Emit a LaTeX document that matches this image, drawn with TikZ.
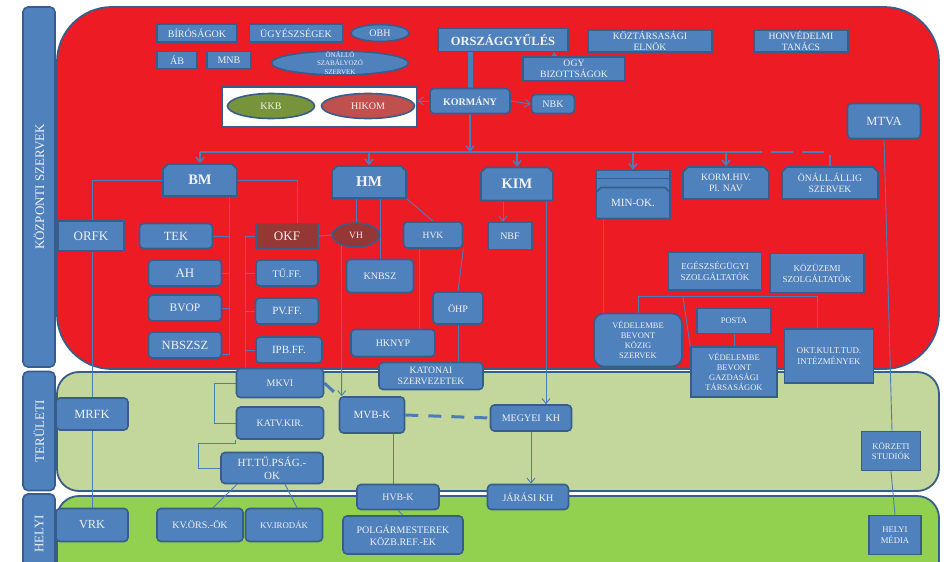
\documentclass[tikz,border=0pt]{standalone}
\usepackage{fontspec}
\setmainfont{Liberation Serif}
\usetikzlibrary{shapes.geometric,shapes.misc,arrows.meta}
\definecolor{kred}{HTML}{ED1C24}
\definecolor{lgreen}{HTML}{C3D69B}
\definecolor{dgreen}{HTML}{92D050}
\definecolor{nblue}{HTML}{4F81BD}
\definecolor{eblue}{HTML}{385D8A}
\definecolor{lblue}{HTML}{4A7EBB}
\definecolor{dred}{HTML}{953735}
\definecolor{olive}{HTML}{77933C}
\definecolor{rose}{HTML}{C0504D}
\definecolor{tw}{HTML}{F2F2F2}
\pgfdeclarelayer{regions}
\pgfdeclarelayer{lines}
\pgfsetlayers{regions,lines,main}
\tikzset{
  fs/.style={font={\fontsize{#1}{#1}\selectfont\baselineskip 1.2\baselineskip}},
  fsb/.style={font={\fontsize{#1}{#1}\selectfont\bfseries}},
  sz/.style 2 args={minimum width=#1pt,minimum height=#2pt},
  box/.style={rectangle,draw=eblue,fill=nblue,line width=1.6pt,text=tw,align=center,inner sep=0pt},
  rbox/.style={box,rounded corners=4pt},
  cbox/.style={box,chamfered rectangle,chamfered rectangle corners={north west,north east},chamfered rectangle sep=2.5pt},
  oval/.style={box,ellipse},
  wbox/.style={rectangle,draw=eblue,fill=white,line width=1.6pt},
  band/.style={draw=eblue,fill=nblue,line width=1.6pt,rounded corners=5pt,text=tw,fs=13,rotate=90,inner sep=0pt},
  area/.style={draw=eblue,line width=1.8pt},
  ln/.style={draw=lblue,line width=0.9pt},
  bus/.style={draw=lblue,line width=2.4pt},
  dline/.style={draw=lblue,line width=3pt,dash pattern=on 13pt off 10pt}
}
\begin{document}
\begin{tikzpicture}[x=1pt,y=-1pt,>={Straight Barb[length=5pt,width=8pt]}]
\useasboundingbox (0,0) rectangle (946,562);
\begin{pgfonlayer}{regions}
\draw[area,fill=kred,rounded corners=55pt] (57,7) rectangle (939,369);
\draw[area,fill=lgreen,rounded corners=22pt] (57,372) rectangle (939,491);
\draw[area,fill=dgreen,rounded corners=22pt] (57,496) rectangle (939,600);
\node[band,sz={360}{32}] (kozp) at (39,187) {KÖZPONTI SZERVEK};
\node[band,sz={119}{32}] (terul) at (39,431) {TERÜLETI};
\node[band,sz={80}{32}] (helyi) at (39,534) {HELYI};
\end{pgfonlayer}
\node[box,sz={80}{18},fs=10] (biro) at (197,33) {BÍRÓSÁGOK};
\node[box,sz={93}{18},fs=10] (ugy) at (296,33) {ÜGYÉSZSÉGEK};
\node[oval,sz={58}{17},fs=10] (obh) at (380,33) {OBH};
\node[box,sz={40}{17},fs=10] (ab) at (177,60) {ÁB};
\node[box,sz={44}{17},fs=10] (mnb) at (229,60) {MNB};
\node[oval,sz={137}{23},fs=7,inner ysep=-3pt] (onszab) at (340,63) {ÖNÁLLÓ\\SZABÁLYOZÓ\\SZERVEK};
\node[wbox,sz={195}{40}] (kkbbox) at (319.5,107) {};
\node[oval,fill=olive,sz={87}{25},fs=10] (kkb) at (271,106) {KKB};
\node[oval,fill=rose,sz={93}{25},fs=10] (hikom) at (368,106) {HIKOM};
\node[box,sz={130}{23},fsb=12.5] (ogy) at (503,40) {ORSZÁGGYŰLÉS};
\node[box,sz={102}{24},fs=9.7] (ogybiz) at (574,69) {OGY\\BIZOTTSÁGOK};
\node[box,sz={124}{22},fs=9.7] (ke) at (650,41) {KÖZTÁRSASÁGI\\ELNÖK};
\node[box,sz={94}{22},fs=9.7] (hvt) at (801,41) {HONVÉDELMI\\TANÁCS};
\node[rbox,sz={80}{25},fsb=10] (korm) at (470,101) {KORMÁNY};
\node[rbox,sz={43}{19},fs=10] (nbk) at (553,104) {NBK};
\node[rbox,sz={73}{35},fs=12.5] (mtva) at (884,121) {MTVA};
\node[cbox,sz={74}{32},fsb=14.5] (bm) at (200,180) {BM};
\node[cbox,sz={74}{32},fsb=15] (hm) at (369,182) {HM};
\node[cbox,sz={72}{33},fsb=14.5] (kim) at (517,184) {KIM};
\node[cbox,sz={74}{31}] (minok3) at (633,186) {};
\node[cbox,sz={74}{31}] (minok2) at (633,194) {};
\node[cbox,sz={74}{31},fs=11] (minok) at (633,203) {MIN-OK.};
\node[cbox,sz={86}{32},fs=9.7] (kormhiv) at (726,183) {KORM.HIV.\\Pl. NAV};
\node[cbox,sz={96}{32},fs=9.7] (onall) at (830,183) {ÖNÁLL.ÁLLIG\\SZERVEK};
\node[box,sz={66}{30},fs=13] (orfk) at (91,236) {ORFK};
\node[rbox,sz={73}{25},fs=12.5] (tek) at (176,236) {TEK};
\node[rbox,sz={73}{26},fs=13] (ah) at (185,273) {AH};
\node[rbox,sz={73}{26},fs=11.5] (bvop) at (185,308) {BVOP};
\node[rbox,sz={73}{26},fs=12.5] (nbszsz) at (185,345) {NBSZSZ};
\node[box,fill=dred,sz={62}{25},fs=13] (okf) at (287,236) {OKF};
\node[rbox,sz={62}{26},fs=10] (tuff) at (287,273) {TŰ.FF.};
\node[rbox,sz={63}{26},fs=11] (pvff) at (287,311) {PV.FF.};
\node[rbox,sz={66}{26},fs=11] (ipbff) at (289,350) {IPB.FF.};
\node[oval,fill=dred,sz={47}{24},fs=9.5] (vh) at (356,235) {VH};
\node[rbox,sz={67}{33},fs=10] (knbsz) at (380,276) {KNBSZ};
\node[rbox,sz={59}{26},fs=9.5] (hvk) at (433,235) {HVK};
\node[rbox,sz={84}{27},fs=10] (hknyp) at (393,343) {HKNYP};
\node[rbox,sz={50}{32},fs=10] (ohp) at (458,308) {ÖHP};
\node[rbox,sz={104}{27},fs=9.7] (katonai) at (431,376) {KATONAI\\SZERVEZETEK};
\node[box,sz={44}{27},fs=10] (nbf) at (510,236) {NBF};
\node[box,sz={93}{38},fs=9] (egesz) at (715,271) {EGÉSZSÉGÜGYI\\SZOLGÁLTATÓK};
\node[box,sz={94}{39},fs=9] (kozuz) at (817,273) {KÖZÜZEMI\\SZOLGÁLTATÓK};
\node[rbox,rounded corners=10pt,sz={88}{53},fs=8.5] (vbkozig) at (638,340) {VÉDELEMBE\\BEVONT\\KÖZIG\\SZERVEK};
\node[box,sz={74}{25},fs=8.5] (posta) at (734,321) {POSTA};
\node[box,sz={86}{50},fs=8.5] (vbgazd) at (734,372) {VÉDELEMBE\\BEVONT\\GAZDASÁGI\\TÁRSASÁGOK};
\node[box,sz={89}{54},fs=8.8] (okt) at (829,356) {OKT.KULT.TUD.\\INTÉZMÉNYEK};
\node[rbox,sz={87}{29},fs=10] (mkvi) at (280,383) {MKVI};
\node[rbox,sz={87}{32},fs=9.8] (katv) at (280,423) {KATV.KIR.};
\node[rbox,sz={102}{31},fs=11] (httu) at (272,468) {HT.TŰ.PSÁG.-\\OK};
\node[rbox,sz={72}{32},fs=12.5] (mrfk) at (92,414) {MRFK};
\node[rbox,sz={65}{36},fs=11] (mvbk) at (372,415) {MVB-K};
\node[rbox,sz={81}{26},fs=10] (megyei) at (531,418) {MEGYEI\ \ KH};
\node[box,sz={59}{39},fs=8.7] (korzeti) at (891,451) {KÖRZETI\\STUDIÓK};
\node[rbox,sz={72}{33},fs=12.3] (vrk) at (92,525) {VRK};
\node[rbox,sz={86}{33},fs=10] (kvors) at (200,525) {KV.ÖRS.-ÖK};
\node[rbox,sz={77}{33},fs=8.8] (kviroda) at (284,525) {KV.IRODÁK};
\node[rbox,sz={82}{25},fs=9.8] (hvbk) at (398,497) {HVB-K};
\node[rbox,sz={81}{25},fs=10] (jarasi) at (528,497) {JÁRÁSI KH};
\node[rbox,sz={120}{38},fs=10] (polg) at (403,535) {POLGÁRMESTEREK\\KÖZB.REF.-EK};
\node[box,sz={52}{39},fs=8.7] (helyimedia) at (895,535) {HELYI\\MÉDIA};
\begin{pgfonlayer}{lines}
\draw[ln,line width=5pt] (korm.north) -- (korm.north |- ogy.south);
\coordinate (og) at ([xshift=32pt]ogybiz.north west);
\draw[ln,-{Triangle[length=4pt,width=6pt]}] (og) -- (og |- ogy.south);
\draw[ln,->] (korm.west) -- (korm.west -| kkbbox.east);
\draw[ln,->] (korm.east) -- (nbk.west);
\coordinate (busL) at (200,152);
\coordinate (busM) at (740,152);
\coordinate (busR) at (onall.north |- busL);
\draw[bus] (busL) -- (busM);
\draw[bus,dash pattern=on 22pt off 9pt] (busM) -- (busR) -- (onall.north);
\draw[ln,line width=1.5pt,->] (korm.south) -- (korm.south |- busL);
\foreach \n in {bm,hm,kim,minok3,kormhiv}
  \draw[ln,line width=1.5pt,->] (\n.north |- busL) -- (\n.north);
\draw[ln] (bm.west) -| (vrk.north);
\coordinate (bmx) at ([xshift=29pt]bm.south);
\draw[ln] (bmx) |- ([yshift=-9pt]nbszsz.east);
\foreach \n in {tek,ah,bvop} \draw[ln] (\n.east) -- (\n.east -| bmx);
\coordinate (okfn) at ([xshift=10pt]okf.north);
\draw[ln] (bm.east) -| (okfn);
\coordinate (okfx) at ([xshift=-10pt]okf.west);
\draw[ln] (okf.west) -- (okfx) -- (okfx |- mkvi.north);
\foreach \n in {tuff,pvff,ipbff} \draw[ln] (\n.west) -- (\n.west -| okfx);
\draw[ln] (okf.east) -- (vh.west);
\draw[ln] (vh.north) -- (vh.north |- hm.south);
\draw[ln] (knbsz.north) -- (knbsz.north |- hm.south);
\draw[ln] (hm.south -| hm.east) -- (hvk.north);
\coordinate (hvks) at ([xshift=-14pt]hvk.south);
\draw[ln] (hvks) -- (hvks |- hknyp.north);
\draw[ln] (hvk.south east) -- (ohp.north);
\draw[ln] (ohp.south) -- (ohp.south |- katonai.north);
\coordinate (mvbn) at ([xshift=3pt]mvbk.north west);
\draw[ln,->] (vh.215) -- (mvbn);
\draw[dline] (mkvi.east) -- (mvbk.north west);
\coordinate (kims1) at ([xshift=-14pt]kim.south);
\coordinate (kims2) at ([xshift=29pt]kim.south);
\draw[ln,->] (kims1) -- (kims1 |- nbf.north);
\draw[ln,->] (kims2) -- (kims2 |- megyei.north);
\draw[dline] (mvbk.east) -- (megyei.west);
\draw[ln,->] (megyei.south) -- (megyei.south |- jarasi.north);
\coordinate (mvbs) at ([xshift=21pt]mvbk.south);
\draw[ln] (mvbs) -- (mvbs |- hvbk.north);
\draw[ln] (hvbk.south) -- (polg.north);
\draw[ln] (mkvi.west) -- ++(-21,0) |- (katv.west);
\draw[ln] (katv.south west) |- ++(-37,4) |- (httu.west);
\coordinate (ht1) at ([xshift=-35pt]httu.south);
\coordinate (ht2) at ([xshift=13pt]httu.south);
\draw[ln] (ht1) -- ([xshift=13pt]kvors.north);
\draw[ln] (ht2) -- ([xshift=13pt]kviroda.north);
\coordinate (mins) at ([xshift=-30pt]minok.south);
\draw[ln] (mins) -- (mins |- vbkozig.north);
\coordinate (vbl) at ([yshift=16pt]vbkozig.north);
\draw[ln] (vbkozig.north) -- (vbl) -| ([xshift=-12pt]okt.north);
\draw[ln] ([xshift=45pt]vbl) -- (vbgazd.north west);
\draw[ln] (posta.south) -- (vbgazd.north);
\draw[ln] (mtva.south) -- ([xshift=1pt]korzeti.north);
\draw[ln] (korzeti.south) -- (helyimedia.north);
\end{pgfonlayer}
\end{tikzpicture}
\end{document}
